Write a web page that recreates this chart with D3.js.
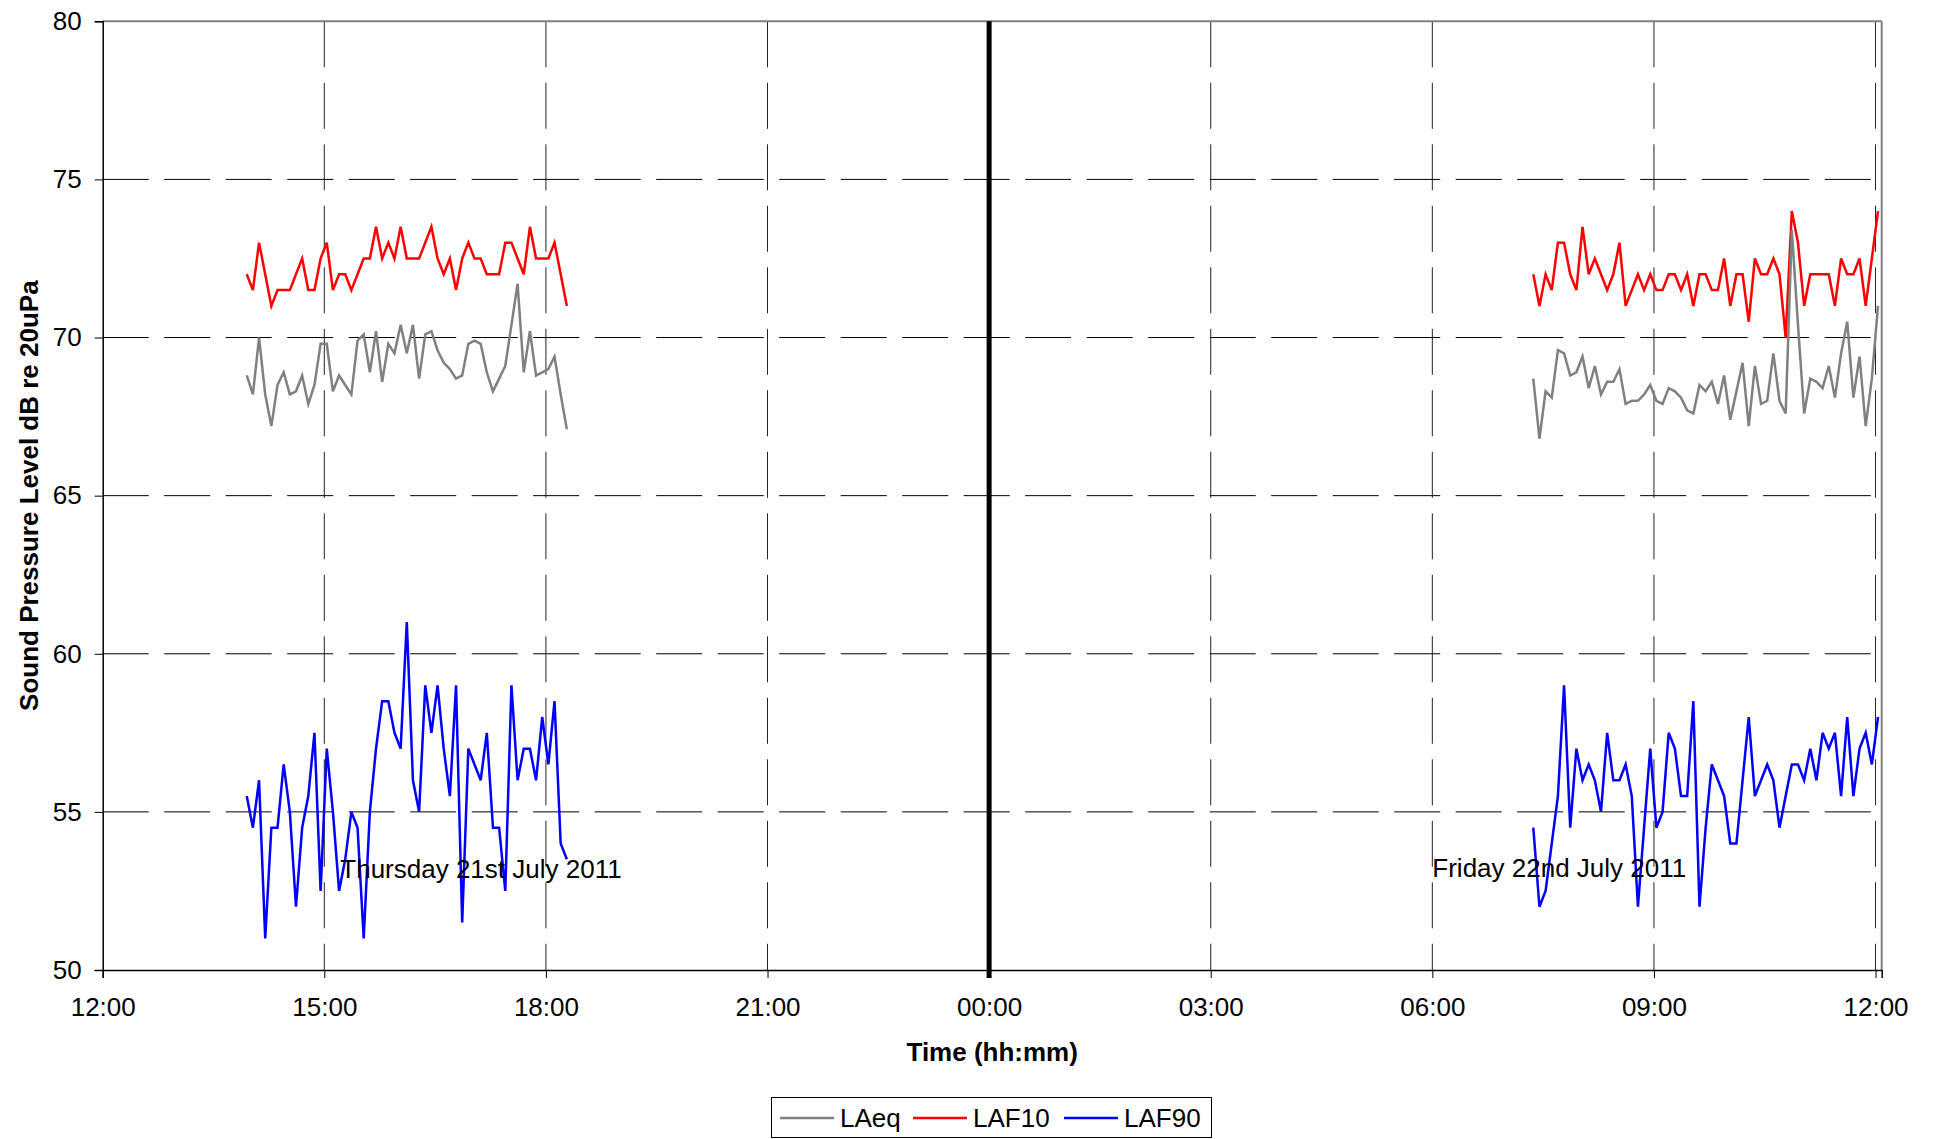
<!DOCTYPE html>
<html>
<head>
<meta charset="utf-8">
<script src="https://cdn.jsdelivr.net/npm/d3@7"></script>
<style>
  body { margin: 0; background: #fff; }
  svg { display: block; font-family: "Liberation Sans", Arial, sans-serif; }
</style>
</head>
<body>
<svg id="chart" width="1937" height="1139"></svg>
<script>
// sampling: one reading every 5 minutes
var stepMinutes = 5;
var thuStart = "2011-07-21T13:57:00", friStart = "2011-07-22T07:22:00";

// Thursday 21st July 2011
var laeqThu = [68.8,68.2,70.0,68.2,67.2,68.5,68.9,68.2,68.3,68.8, 67.9,68.5,69.8,69.8,68.3,68.8,68.5,68.2,69.9,70.1,
               68.9,70.2,68.6,69.8,69.5,70.4,69.5,70.4,68.7,70.1, 70.2,69.6,69.2,69.0,68.7,68.8,69.8,69.9,69.8,68.9,
               68.3,68.7,69.1,70.4,71.7,68.9,70.2,68.8,68.9,69.0, 69.4,68.2,67.1];
var laf10Thu = [72,71.5,73,72,71,71.5,71.5,71.5,72,72.5, 71.5,71.5,72.5,73,71.5,72,72,71.5,72,72.5,
                72.5,73.5,72.5,73,72.5,73.5,72.5,72.5,72.5,73, 73.5,72.5,72,72.5,71.5,72.5,73,72.5,72.5,72,
                72,72,73,73,72.5,72,73.5,72.5,72.5,72.5, 73,72,71];
var laf90Thu = [55.5,54.5,56,51,54.5,54.5,56.5,55,52,54.5, 55.5,57.5,52.5,57,55,52.5,53.5,55,54.5,51,
                55,57,58.5,58.5,57.5,57,61,56,55,59, 57.5,59,57,55.5,59,51.5,57,56.5,56,57.5,
                54.5,54.5,52.5,59,56,57,57,56,58,56.5, 58.5,54,53.5];

// Friday 22nd July 2011
var laeqFri = [68.7,66.8,68.3,68.1,69.6,69.5,68.8,68.9,69.4,68.4, 69.1,68.2,68.6,68.6,69.0,67.9,68.0,68.0,68.2,68.5,
               68.0,67.9,68.4,68.3,68.1,67.7,67.6,68.5,68.3,68.6, 67.9,68.8,67.4,68.3,69.2,67.2,69.1,67.9,68.0,69.5,
               68.0,67.6,73.4,70.4,67.6,68.7,68.6,68.4,69.1,68.1, 69.5,70.5,68.1,69.4,67.2,68.7,71.0];
var laf10Fri = [72,71,72,71.5,73,73,72,71.5,73.5,72, 72.5,72,71.5,72,73,71,71.5,72,71.5,72,
                71.5,71.5,72,72,71.5,72,71,72,72,71.5, 71.5,72.5,71,72,72,70.5,72.5,72,72,72.5,
                72,70,74,73,71,72,72,72,72,71, 72.5,72,72,72.5,71,72.5,74];
var laf90Fri = [54.5,52,52.5,54,55.5,59,54.5,57,56,56.5, 56,55,57.5,56,56,56.5,55.5,52,54.5,57,
                54.5,55,57.5,57,55.5,55.5,58.5,52,54.5,56.5, 56,55.5,54,54,56,58,55.5,56,56.5,56,
                54.5,55.5,56.5,56.5,56,57,56,57.5,57,57.5, 55.5,58,55.5,57,57.5,56.5,58];

var seriesNames = ["LAeq", "LAF10", "LAF90"];
var seriesColors = ["#808080", "#ff0000", "#0000ff"];
var yTicks = [50, 55, 60, 65, 70, 75, 80];
var dayLabels = ["Thursday 21st July 2011", "Friday 22nd July 2011"];
var dayLabelTimes = ["2011-07-21T15:13:00", "2011-07-22T06:00:00"];
var dayLabelLevels = [52.9, 52.95];
var xDomain = ["2011-07-21T12:00:00", "2011-07-22T12:05:00"];
var midnight = "2011-07-22T00:00:00";

(function() {
  var parse = d3.isoParse;
  var svg = d3.select("#chart");
  var mLeft = 102.7, mRight = 1881.7, mTop = 21.3, mBottom = 970;
  var fs = "26px";

  var x = d3.scaleTime().domain(xDomain.map(parse)).range([mLeft, mRight]);
  var y = d3.scaleLinear().domain([50, 80]).range([mBottom, mTop]);

  function toPoints(start, vals) {
    var t0 = parse(start);
    return vals.map(function(v, i) { return { t: d3.timeMinute.offset(t0, i * stepMinutes), v: v }; });
  }

  var series = [
    { name: "LAeq", color: seriesColors[0], parts: [toPoints(thuStart, laeqThu), toPoints(friStart, laeqFri)] },
    { name: "LAF10", color: seriesColors[1], parts: [toPoints(thuStart, laf10Thu), toPoints(friStart, laf10Fri)] },
    { name: "LAF90", color: seriesColors[2], parts: [toPoints(thuStart, laf90Thu), toPoints(friStart, laf90Fri)] }
  ];

  var xTickVals = d3.timeHour.every(3).range(parse(xDomain[0]), d3.timeMinute.offset(parse(xDomain[1]), 1));

  // horizontal grid
  svg.append("g").selectAll("line")
    .data(yTicks.filter(function(d) { return d > 50 && d < 80; }))
    .enter().append("line")
    .attr("x1", mLeft).attr("x2", mRight)
    .attr("y1", function(d) { return y(d); }).attr("y2", function(d) { return y(d); })
    .attr("stroke", "#000").attr("stroke-width", 1)
    .attr("stroke-dasharray", "46,15.5");

  // vertical grid
  svg.append("g").selectAll("line")
    .data(xTickVals.filter(function(d, i) { return i > 0 && +d !== +parse(midnight); }))
    .enter().append("line")
    .attr("x1", function(d) { return x(d); }).attr("x2", function(d) { return x(d); })
    .attr("y1", mTop).attr("y2", mBottom)
    .attr("stroke", "#222").attr("stroke-width", 1)
    .attr("stroke-dasharray", "46,15.5");

  // frame top/right
  svg.append("line").attr("x1", mLeft).attr("x2", mRight).attr("y1", mTop).attr("y2", mTop)
    .attr("stroke", "#808080").attr("stroke-width", 2);
  svg.append("line").attr("x1", mRight).attr("x2", mRight).attr("y1", mTop).attr("y2", mBottom)
    .attr("stroke", "#808080").attr("stroke-width", 2);

  // midnight divider
  svg.append("line")
    .attr("x1", x(parse(midnight))).attr("x2", x(parse(midnight)))
    .attr("y1", mTop).attr("y2", mBottom + 8)
    .attr("stroke", "#000").attr("stroke-width", 5);

  // data lines
  var line = d3.line().x(function(d) { return x(d.t); }).y(function(d) { return y(d.v); });
  [series[1], series[0], series[2]].forEach(function(s) {
    svg.append("g").selectAll("path").data(s.parts).enter().append("path")
      .attr("d", line)
      .attr("fill", "none").attr("stroke", s.color).attr("stroke-width", 2.5)
      .attr("stroke-linejoin", "miter");
  });

  // axes
  var yAxis = svg.append("g").attr("transform", "translate(" + mLeft + ",0)")
    .call(d3.axisLeft(y).tickValues(yTicks).tickSize(8).tickPadding(13));
  var xAxis = svg.append("g").attr("transform", "translate(0," + mBottom + ")")
    .call(d3.axisBottom(x).tickValues(xTickVals).tickFormat(d3.timeFormat("%H:%M")).tickSize(8).tickPadding(20));
  [yAxis, xAxis].forEach(function(a) {
    a.select(".domain").attr("stroke", "#000").attr("stroke-width", 1.5);
    a.selectAll(".tick line").attr("stroke", "#000").attr("stroke-width", 1);
    a.selectAll("text").attr("font-size", fs).attr("font-family", "Liberation Sans, Arial, sans-serif").attr("fill", "#000");
  });

  // titles
  svg.append("text").attr("x", (mLeft + mRight) / 2).attr("y", 1061)
    .attr("text-anchor", "middle").attr("font-size", "26px").attr("font-weight", "bold")
    .text("Time (hh:mm)");
  svg.append("text").attr("transform", "translate(38," + ((mTop + mBottom) / 2) + ") rotate(-90)")
    .attr("text-anchor", "middle").attr("font-size", "26px").attr("font-weight", "bold")
    .text("Sound Pressure Level dB re 20uPa");

  // day annotations
  svg.append("g").selectAll("text").data(dayLabels).enter().append("text")
    .attr("x", function(d, i) { return x(parse(dayLabelTimes[i])); })
    .attr("y", function(d, i) { return y(dayLabelLevels[i]); })
    .attr("font-size", fs).attr("fill", "#000")
    .text(function(d) { return d; });

  // legend
  var lg = svg.append("g");
  lg.append("rect").attr("x", 771.5).attr("y", 1097.5).attr("width", 440).attr("height", 40)
    .attr("fill", "#fff").attr("stroke", "#000").attr("stroke-width", 1);
  var legendX = [780, 913, 1064];
  seriesNames.forEach(function(n, i) {
    lg.append("line").attr("x1", legendX[i]).attr("x2", legendX[i] + 54)
      .attr("y1", 1118).attr("y2", 1118).attr("stroke", seriesColors[i]).attr("stroke-width", 2.5);
    lg.append("text").attr("x", legendX[i] + 60).attr("y", 1127)
      .attr("font-size", fs).text(n);
  });
})();
</script>
</body>
</html>
